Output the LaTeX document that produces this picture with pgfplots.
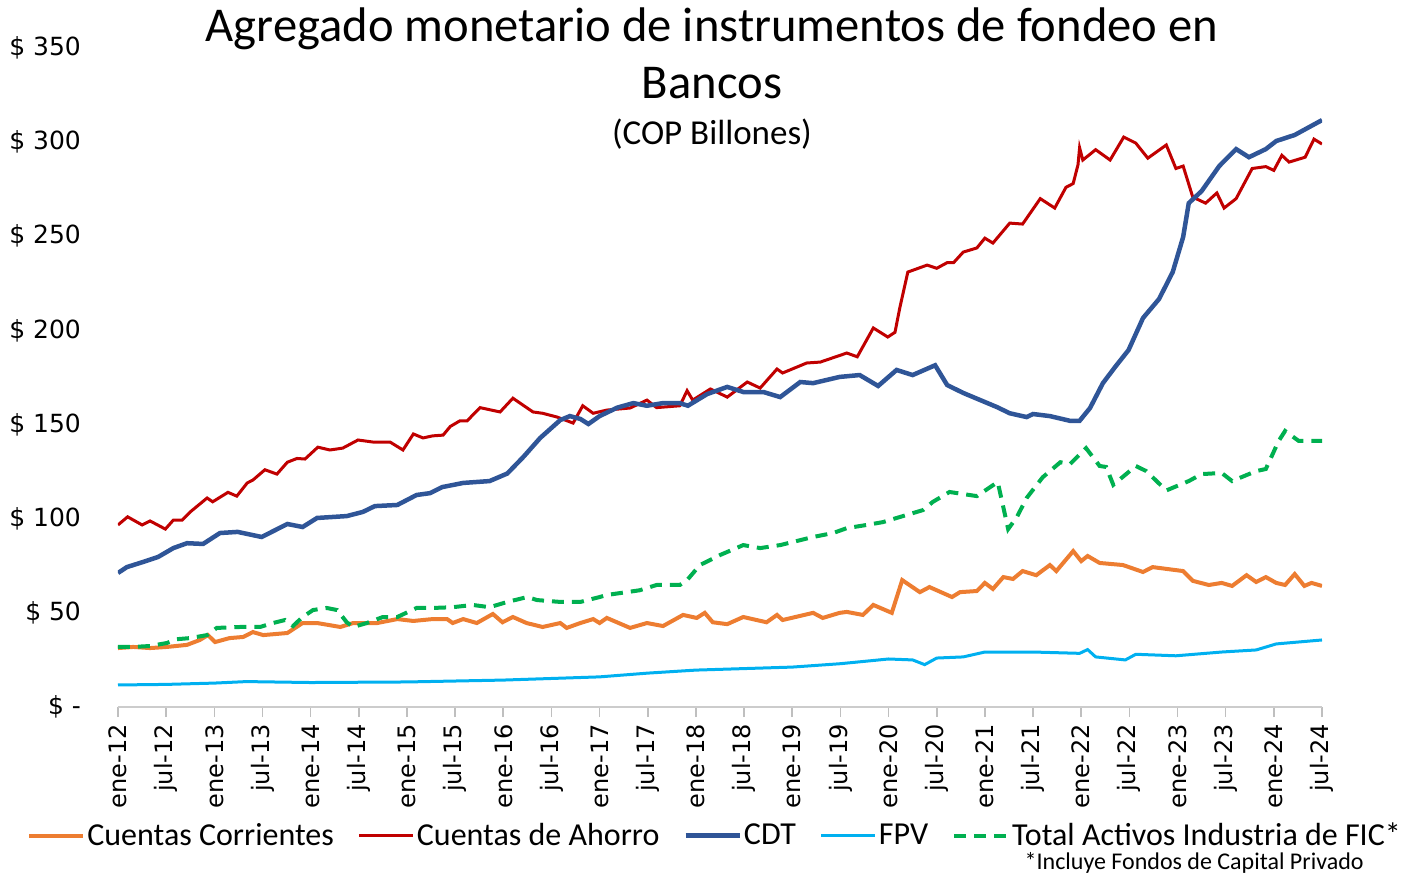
\documentclass[border=0pt]{standalone}
\usepackage{fontspec}
\setmainfont{Carlito}
\newfontfamily\dejavu{DejaVu Sans}
\usepackage{pgfplots}
\pgfplotsset{compat=1.18}

\definecolor{ccorr}{HTML}{ED7D31}
\definecolor{cahorro}{HTML}{C00000}
\definecolor{cdt}{HTML}{2F5597}
\definecolor{fpv}{HTML}{00B0F0}
\definecolor{fic}{HTML}{00B050}

\begin{document}
\begin{tikzpicture}
\useasboundingbox (-59pt,-83pt) rectangle (642pt,353.5pt);
\begin{axis}[
    scale only axis,
    width=602pt, height=329.5pt,
    xmin=0, xmax=150, ymin=0, ymax=350,
    axis x line*=bottom, axis y line*=left,
    y axis line style={draw=none},
    x axis line style={draw=black!20, line width=0.8pt},
    tick align=outside,
    major tick length=5pt,
    xtick={0,6,...,150},
    xticklabels={ene-12,jul-12,ene-13,jul-13,ene-14,jul-14,ene-15,jul-15,ene-16,jul-16,ene-17,jul-17,ene-18,jul-18,ene-19,jul-19,ene-20,jul-20,ene-21,jul-21,ene-22,jul-22,ene-23,jul-23,ene-24,jul-24},
    xtick style={draw=black!25, line width=0.8pt},
    xticklabel style={rotate=90, anchor=east, font=\dejavu\fontsize{12}{14}\selectfont},
    ytick={0,50,...,350},
    yticklabels={\$ -\hspace{6pt},\$ 50,\$ 100,\$ 150,\$ 200,\$ 250,\$ 300,\$ 350},
    ytick style={draw=none},
    yticklabel style={anchor=east, xshift=-10pt, font=\dejavu\fontsize{12.5}{15}\selectfont},
    legend columns=5,
    legend cell align=left,
    legend image code/.code={\draw[#1] (0pt,0pt) -- (27pt,0pt);},
    legend style={at={(-0.0756,-0.195)}, anchor=west, draw=none, fill=none,
        inner sep=0pt, font=\fontsize{16}{17}\selectfont,
        nodes={inner xsep=1pt, inner ysep=1pt},
        /tikz/every even column/.append style={column sep=11pt}},
]

% Cuentas Corrientes
\addplot[ccorr, line width=2pt] coordinates {
(0,31.3)(1.9,31.9)(4,31.3)(6.1,31.9)(8.6,33)(10.2,35.6)(11.2,38.2)(12.1,34.5)(13.9,36.6)(15.6,37.2)(16.8,39.8)(18.1,38.2)(21.1,39.3)(23,44.6)(24.8,44.6)(27.7,42.5)(29.3,44.6)(32.3,44.6)(34.8,46.7)(36.8,45.7)(39.2,46.7)(41,46.7)(41.7,44.6)(43,46.7)(44.7,44.6)(46.7,49.4)(47.9,45)(49.2,47.8)(50.9,44.6)(52.9,42.5)(55.1,44.6)(55.9,42)(57.6,44.6)(59.2,46.7)(60,44.6)(60.9,47.3)(63.8,42)(65.9,44.6)(67.9,43)(70.4,48.9)(72.1,47.3)(73.1,50)(74.1,45)(75.9,44)(77.9,47.8)(80.8,45)(82.1,48.9)(82.8,46.2)(86.6,50)(87.8,47.3)(89.9,50)(90.8,50.5)(92.8,48.9)(94.1,54.2)(96.4,50)(97.7,67.4)(99.9,61)(101.1,63.7)(103.9,58.4)(104.9,61)(107,61.6)(108,65.9)(109,62.7)(110.3,69)(111.5,68)(112.7,72.2)(114.4,70)(116.1,75.4)(116.9,72.2)(119,82.8)(120,77.5)(120.8,80.2)(122.3,76.5)(125.2,75.4)(127.7,71.7)(128.9,74.3)(132.7,72.2)(133.9,67)(135.9,64.8)(137.5,65.9)(138.8,64.3)(140.6,70)(141.8,66.4)(143,69)(144.3,65.9)(145.4,64.8)(146.6,70.6)(147.8,64.3)(148.7,65.9)(150,64.3)
};
\addlegendentry{Cuentas Corrientes}

% Cuentas de Ahorro
\addplot[cahorro, line width=1.5pt] coordinates {
(0,96.7)(1.2,101)(3,96.7)(4,98.8)(5.9,94.5)(6.9,99.3)(8,99.3)(9,103.6)(11.1,111)(11.8,109)(13.7,114)(14.8,112)(16.1,119)(16.8,120.5)(18.3,126)(19.8,123.7)(21.1,130)(22.3,132)(23.3,131.7)(24.9,138)(26.4,136.5)(28,137.5)(29.9,141.8)(31.8,140.7)(33.9,140.7)(35.5,136.5)(36.8,145)(38,142.9)(39.2,144)(40.5,144.4)(41.4,149)(42.6,152)(43.5,152)(45.1,159)(47.6,156.7)(49.2,164)(51.7,156.7)(52.9,156)(54.7,154)(56.7,150.8)(57.9,160)(59.2,156)(60.9,157.7)(63.8,158.8)(65.9,163)(67.1,159)(70,160)(70.9,168)(71.6,163)(73.8,168.9)(75.9,164.6)(78.4,172.6)(80,169.4)(82.1,179.5)(82.8,177.4)(85.8,182.7)(87.5,183.2)(90.8,188)(92.1,186)(94.1,201.3)(95.9,196.5)(96.8,199)(97.4,212)(98.4,231)(100.8,234.7)(102,233)(103.3,236)(104.1,236)(105.3,241.6)(107,243.8)(108,249)(109,246.4)(111.1,257)(112.7,256.5)(114.9,270)(116.7,265)(118.1,276)(119,278)(119.6,288)(119.8,297)(120.2,290.5)(121.8,296)(123.6,290.5)(125.3,302.7)(126.8,299.5)(128.3,291.5)(130.6,298.5)(131.8,286)(132.7,287.3)(133.9,270.8)(135.5,267.6)(136.9,273)(137.8,265)(139.3,270)(141.3,286)(143,287)(144,285)(145,293)(145.9,289.4)(147.9,292)(149,301.6)(150,299)
};
\addlegendentry{Cuentas de Ahorro}

% CDT
\addplot[cdt, line width=2.25pt] coordinates {
(0,71.2)(1.1,74.3)(3.1,77)(5,79.7)(6.9,84.4)(8.6,87)(10.6,86.6)(12.7,92.4)(14.9,93)(17.9,90.3)(21.1,97.2)(23,95.6)(24.8,100.4)(28.5,101.4)(30.5,103.6)(32,106.7)(34.8,107.3)(37.2,112.6)(38.9,113.6)(40.4,116.8)(43,119)(46.3,120)(48.5,124)(50.5,132.8)(52.6,142.9)(55.1,152.4)(56.3,154.5)(57.6,153)(58.6,150.3)(60,154.5)(62.2,159)(64.2,161.4)(65.9,160)(67.9,161.4)(70,161.4)(71,160)(73.4,166.2)(75.9,170)(77.9,167.3)(80.4,167.3)(82.5,164.6)(85,172.6)(86.6,172)(89.9,175.3)(92.4,176.3)(94.7,170.5)(97,179)(99,176.3)(101.8,181.5)(103.3,171)(105.3,166.8)(109.5,159.3)(111.1,156)(113.2,154)(114,155.6)(116.1,154.5)(118.6,152)(119.8,152)(121.1,158.8)(122.7,172)(124.3,181)(125.9,189.6)(127.7,206.6)(129.7,216.7)(131.4,231)(132.7,249.6)(133.4,267.6)(135,274)(137.2,287.3)(139.3,296.3)(140.9,292)(143,296.3)(144.3,300.6)(146.6,303.8)(150,311.7)
};
\addlegendentry{CDT}

% FPV
\addplot[fpv, line width=1.5pt] coordinates {
(0,11.7)(6,12)(12,12.7)(16,13.5)(24,13)(36,13.3)(48,14.3)(60,16)(66,18)(72,19.6)(84,21.2)(90,23)(96,25.5)(99,25)(100.5,22.5)(102,26)(105.3,26.6)(108,29.2)(114,29.2)(119.8,28.5)(120.8,30.5)(121.8,26.6)(125.5,25)(126.8,28)(131.8,27.2)(137.5,29.2)(141.8,30.3)(144.3,33.5)(150,35.6)
};
\addlegendentry{FPV}

% Total Activos Industria de FIC
\addplot[fic, line width=2pt, dash pattern=on 6pt off 4pt] coordinates {
(0,31.9)(1.9,31.9)(4,32.4)(6.1,34)(7.3,36)(9,36.6)(11.1,38.2)(12.3,42)(15.2,42.5)(17.7,42.5)(19.3,44.6)(20.8,46.2)(21.8,43)(23,47.8)(24.3,51.5)(26,52.6)(27.3,51.5)(28.5,45)(29.3,42.5)(31,44.6)(33,47.8)(34.8,47.8)(37.2,52.6)(39.2,52.6)(41.7,53)(44.2,54.2)(46.3,53)(48.5,55.8)(51,58.4)(52.2,56.8)(55.1,55.8)(57.6,55.8)(60,58.4)(60.9,59.5)(65,62)(67.1,64.8)(70,64.8)(70.9,67.4)(72.5,75.4)(75,80.7)(77.9,86)(80,84.4)(82.5,86)(86.6,90.3)(89.1,92.4)(90.8,95)(93.3,96.7)(95.3,98.2)(97.4,100.9)(100.3,104.6)(101.5,108.9)(103.6,114.2)(107,112)(109.6,119.5)(110.9,94.5)(112,101)(113.2,111)(115.2,122)(117.4,130)(118.6,129)(120.6,137.5)(122.3,128)(123.1,127.5)(124,118)(126.8,128)(128.1,125.3)(130.6,115)(133.4,120)(135,123.7)(137.5,124.3)(138.8,120)(141.8,125.3)(143,126.4)(144.6,141.3)(145.4,146.6)(147.1,141.3)(150,141.3)
};
\addlegendentry{Total Activos Industria de FIC*}

\end{axis}
\node[anchor=base, inner sep=0pt, font=\fontsize{24.3}{29}\selectfont] at (297pt,332.5pt) {Agregado monetario de instrumentos de fondeo en};
\node[anchor=base, inner sep=0pt, font=\fontsize{24.3}{29}\selectfont] at (297pt,304pt) {Bancos};
\node[anchor=base, inner sep=0pt, font=\fontsize{17.5}{21}\selectfont] at (297pt,281pt) {(COP Billones)};
\node[anchor=base east, inner sep=0pt, font=\fontsize{12}{13}\selectfont] at (623pt,-81pt) {*Incluye Fondos de Capital Privado};
\end{tikzpicture}
\end{document}
